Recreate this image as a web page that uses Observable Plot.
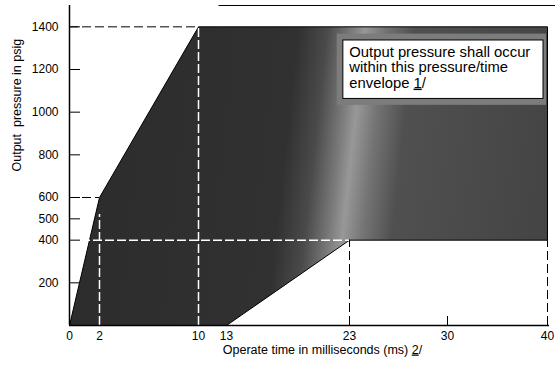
<!DOCTYPE html>
<html>
<head>
<meta charset="utf-8">
<script src="https://cdn.jsdelivr.net/npm/d3@7"></script>
<script src="https://cdn.jsdelivr.net/npm/@observablehq/plot@0.6"></script>
<style>
  html, body { margin: 0; padding: 0; background: #fff; }
  #chart svg { display: block; font-family: "Liberation Sans", Arial, sans-serif; }
</style>
</head>
<body>
<div id="chart"></div>
<script>
// ---- data ----
const xTicks = [0, 2, 10, 13, 23, 30, 40];                 // ms tick labels (axis not to scale)
const yTicks = [200, 400, 500, 600, 800, 1000, 1200, 1400]; // psig tick labels

// pressure/time envelope (polygon vertices)
const envTime     = [0, 2, 10, 40, 40, 23, 13];
const envPressure = [0, 600, 1400, 1400, 400, 400, 0];

// black dashed horizontal guides
const hGuideP    = [1400, 600];
const hGuideTo   = [10, 2];
// white dashed horizontal guide (inside the envelope)
const wGuideP    = [400];
const wGuideTo   = [23];
// white dashed vertical guides (inside the envelope)
const wvTime     = [2, 10];
const wvTop      = [520, 1400];
// black dashed vertical guides
const bvTime     = [23, 40];
const bvTop      = [400, 400];

// note box
const noteText = "Output pressure shall occur\nwithin this pressure/time\nenvelope 1/";
const noteBox  = {t1: 22.5, t2: 39.6, p1: 1062, p2: 1336};

const xTitle = "Operate time in milliseconds (ms) 2/";
const yTitle = "Output  pressure in psig";

// ---- build ----
const envelope = envTime.map((t, i) => ({t, p: envPressure[i]}));
const hGuides = hGuideP.map((p, i) => ({p, to: hGuideTo[i]}));
const wGuides = wGuideP.map((p, i) => ({p, to: wGuideTo[i]}));
const wvGuides = wvTime.map((t, i) => ({t, top: wvTop[i]}));
const bvGuides = bvTime.map((t, i) => ({t, top: bvTop[i]}));

// gradient imitating the scanned shading (light band slightly tilted)
const defsMark = (index, scales) => {
  const x0 = scales.x(0), x1 = scales.x(40), ym = scales.y(700);
  const L = x1 - x0;
  const defs = d3.create("svg:defs");
  const g = defs.append("linearGradient").attr("id", "envFill")
    .attr("gradientUnits", "userSpaceOnUse")
    .attr("x1", x0).attr("y1", ym).attr("x2", x1).attr("y2", ym + 0.108 * L);
  [[0, "#2c2c2c"], [0.44, "#313131"], [0.50, "#4a4a4a"], [0.55, "#7a7a7a"], [0.578, "#989898"],
   [0.62, "#747474"], [0.68, "#505050"], [1, "#444"]].forEach(([o, c]) =>
    g.append("stop").attr("offset", o).attr("stop-color", c));
  return defs.node();
};

const closed = [...envelope, envelope[0]];
const fmt = d => String(d);

const chart = Plot.plot({
  width: 556,
  height: 367,
  marginLeft: 69,
  marginRight: 9,
  marginTop: 5,
  marginBottom: 42,
  style: {fontFamily: "'Liberation Sans', Arial, sans-serif", fontSize: "12px", color: "#000", background: "#fff"},
  x: {type: "linear", domain: xTicks, range: [69, 99, 198, 226, 349, 447, 547]},
  y: {domain: [0, 1500]},
  marks: [
    defsMark,
    // envelope
    Plot.line(closed, {x: "t", y: "p", stroke: "none", fill: "url(#envFill)"}),
    // light halo around the note box
    Plot.rect([noteBox], {x1: d => d.t1 - 0.5, x2: d => d.t2 + 0.3, y1: d => d.p1 - 30, y2: d => d.p2 + 30, fill: "#7c7c7c"}),
    Plot.line(closed, {x: "t", y: "p", stroke: "#000", strokeWidth: 1}),
    // white dashed guides inside envelope
    Plot.ruleY(wGuides, {y: "p", x1: 0, x2: "to", stroke: "#fff", strokeWidth: 1.5, strokeDasharray: "9,3"}),
    Plot.ruleX(wvGuides, {x: "t", y1: 0, y2: "top", stroke: "#fff", strokeWidth: 1.5, strokeDasharray: "9,3"}),
    // black dashed guides
    Plot.ruleY(hGuides, {y: "p", x1: 0, x2: "to", stroke: "#000", strokeWidth: 1, strokeDasharray: "9,4"}),
    Plot.ruleX(bvGuides, {x: "t", y1: 0, y2: "top", stroke: "#000", strokeWidth: 1, strokeDasharray: "9,4"}),
    // axes lines
    Plot.ruleX([0], {y1: 0, y2: 1500, stroke: "#000", strokeWidth: 1.5}),
    Plot.ruleY([0], {x1: 0, x2: 40.2, stroke: "#000", strokeWidth: 1.5}),
    Plot.ruleY([1500], {x1: 12.2, x2: 40.8, stroke: "#000", strokeWidth: 1.2}),
    // axes
    Plot.axisY(yTicks, {tickSize: 0, tickPadding: 11, fontSize: 12, tickFormat: fmt, label: null}),
    Plot.axisY(yTicks, {tickSize: -11, tickFormat: () => "", label: null}),
    Plot.axisX(xTicks, {tickSize: 0, tickPadding: 6, fontSize: 12, tickFormat: fmt, label: null}),
    Plot.axisX([30], {tickSize: -9, tickFormat: () => "", label: null}),
    // note
    Plot.rect([noteBox], {x1: "t1", x2: "t2", y1: "p1", y2: "p2", fill: "#fff", stroke: "#000", strokeWidth: 1}),
    Plot.text([noteBox], {x: "t1", y: "p2", text: () => noteText, textAnchor: "start", lineAnchor: "top",
      dx: 6, dy: 5, fontSize: 14.8, lineHeight: 1.05, fill: "#000"}),
    // titles
    Plot.text([xTitle], {frameAnchor: "bottom", text: d => d, dx: 14, dy: 28, fontSize: 12.5, fill: "#000"}),
    Plot.text([yTitle], {frameAnchor: "left", text: d => d, rotate: -90, dx: -53, dy: 6, fontSize: 12.5, fill: "#000"})
  ]
});

// underline the footnote markers "1/" and "2/"
d3.select(chart).selectAll("text, tspan").each(function () {
  const el = d3.select(this);
  if (this.children.length) return;
  const s = this.textContent;
  const m = s.match(/^(.*\s)([12])(\/)$/);
  if (!m) return;
  el.text(null);
  el.append("tspan").text(m[1]);
  el.append("tspan").text(m[2]).style("text-decoration", "underline");
  el.append("tspan").text(m[3]);
});

document.getElementById("chart").appendChild(chart);
</script>
</body>
</html>
